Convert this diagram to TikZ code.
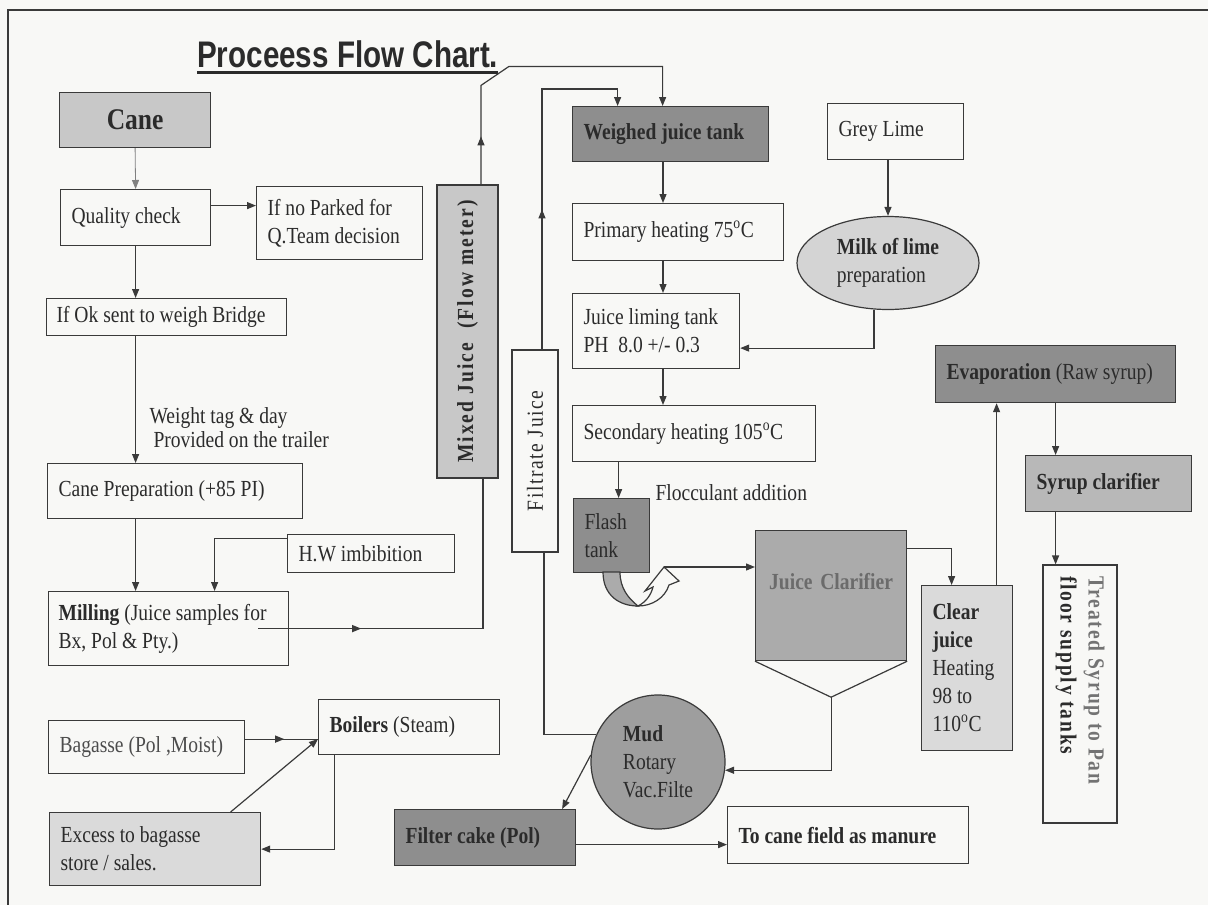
\documentclass[tikz,border=0pt]{standalone}
\usepackage{fontspec}
\setmainfont{Liberation Serif}[FakeStretch=0.85]
\newfontfamily\titlefont{Liberation Sans}[FakeStretch=0.8]
\usetikzlibrary{arrows.meta,shapes.geometric,decorations.markings,calc}

\definecolor{paper}{HTML}{F8F8F6}
\definecolor{ink}{HTML}{2B2B2B}
\definecolor{wirec}{HTML}{3A3A3A}
\definecolor{darkgrey}{HTML}{8E8E8E}
\definecolor{midgrey}{HTML}{ABABAB}
\definecolor{lightgrey}{HTML}{C8C8C8}
\definecolor{palegrey}{HTML}{DADADA}

\def\body{\fontsize{23}{28}\selectfont}
\def\deg{\textsuperscript{o}}

\tikzset{
  box/.style={draw=wirec, line width=1.2pt, fill=paper, anchor=north west,
    inner xsep=11pt, inner ysep=2pt, align=flush left, font=\body, text=ink},
  arr/.style={color=wirec, line width=1.2pt, -{Triangle[length=9pt,width=7pt]}},
  pipe/.style={color=wirec, line width=1.2pt},
  midarr/.style={postaction={decorate}, decoration={markings,
    mark=at position #1 with {\arrow{Triangle[length=9pt,width=7pt]}}}}
}

\begin{document}
\begin{tikzpicture}[x=1pt,y=-1pt]
   \useasboundingbox (0,0) rectangle (1208,905);
   \fill[paper] (0,0) rectangle (1208,905);
   \draw[wirec, line width=1.5pt] (8,905) -- (8,10) -- (1208,10);

   \node[anchor=base west, inner sep=0, text=ink, font=\titlefont\bfseries\fontsize{37}{40}\selectfont] (title) at (197,67) {Proceess Flow Chart.};
   \draw[ink, line width=3pt] ([yshift=-5pt]title.base west) -- ([yshift=-5pt]title.base east);

   % cane side
   \node[box, fill=lightgrey, text width=129pt, minimum height=55pt, align=center, font=\fontsize{30}{34}\selectfont\bfseries] (cane) at (59,92) {Cane};
   \node[box, text width=128pt, minimum height=56pt] (qual) at (60,189) {Quality check};
   \node[box, text width=144pt, minimum height=73pt] (ifno) at (256,186) {If no Parked for\\Q.Team decision};
   \node[box, text width=220pt, minimum height=37pt, inner xsep=10pt] (ifok) at (46,298) {If Ok sent to weigh Bridge};
   \node[anchor=west, align=left, text=ink, font=\fontsize{23}{24}\selectfont] (wlab) at (146,428) {Weight tag \& day\\\hspace*{4pt}Provided on the trailer};
   \node[box, text width=233pt, minimum height=55pt] (prep) at (47,463) {Cane Preparation (+85 PI)};
   \node[box, text width=145pt, minimum height=38pt] (hw) at (287,534) {H.W imbibition};
   \node[box, text width=220pt, minimum height=74pt, inner xsep=10pt] (mill) at (48,591) {\textbf{Milling} (Juice samples for\\Bx, Pol \& Pty.)};
   \node[box, text width=174pt, minimum height=53pt, text=black!70] (bag) at (48,720) {Bagasse (Pol ,Moist)};
   \node[box, text width=159pt, minimum height=55pt] (boil) at (318,699) {\textbf{Boilers} (Steam)};
   \node[box, fill=palegrey, text width=189pt, minimum height=73pt] (excess) at (49,812) {Excess to bagasse\\store / sales.};

   % juice lines
   \node[box, anchor=center, rotate=90, fill=lightgrey, minimum width=293pt, minimum height=61pt, align=center, font={\body\bfseries\addfontfeatures{LetterSpace=9}}] (mixed) at (467.5,331.5) {Mixed Juice\ \ (Flow meter)};
   \node[box, anchor=center, rotate=90, minimum width=202pt, minimum height=46pt, align=center, font={\body\addfontfeatures{LetterSpace=7}}] (filt) at (535,451) {Filtrate Juice};
   \node[box, fill=darkgrey, text width=174pt, minimum height=55pt, font=\body\bfseries] (wjt) at (572,106) {Weighed juice tank};
   \node[box, text width=189pt, minimum height=57pt] (prim) at (572,203) {Primary heating 75\deg C};
   \node[box, text width=145pt, minimum height=75pt] (lime) at (572,293) {Juice liming tank\\PH\ \ 8.0 +/- 0.3};
   \node[box, text width=221pt, minimum height=56pt] (sec) at (572,405) {Secondary heating 105\deg C};
   \node[box, fill=darkgrey, text width=54pt, minimum height=74pt] (flash) at (573,498) {Flash\\tank};
   \node[anchor=west, text=ink, font=\body] (floc) at (652,493) {Flocculant addition};
   \node[box, fill=midgrey, text width=129pt, minimum height=130pt, align=center, font=\body\bfseries, text=black!58] (clar) at (755,530) {\raisebox{6pt}[0pt][0pt]{Juice Clarifier}};
   \draw[pipe] (clar.south west) -- ($(clar.south)+(0,36)$) coordinate (hop) -- (clar.south east);
   \node[box, fill=palegrey, text width=69pt, minimum height=165pt] (clear) at (921,585) {\textbf{Clear}\\\textbf{juice}\\Heating\\98 to\\110\deg C};
   \node[box, fill=darkgrey, text width=218pt, minimum height=57pt] (evap) at (935,345) {\textbf{Evaporation} (Raw syrup)};
   \node[box, fill=midgrey!85, text width=144pt, minimum height=56pt, font=\body\bfseries] (syr) at (1025,455) {Syrup clarifier};
   \node[box, anchor=center, rotate=-90, text width=236pt, minimum height=74pt, font={\body\bfseries\addfontfeatures{LetterSpace=8}}] (treat) at (1080,694) {\textcolor{black!55}{Treated Syrup to Pan}\\floor supply tanks};

   % lime side
   \node[box, text width=114pt, minimum height=56pt] (grey) at (827,103) {Grey Lime};
   \node[box, ellipse, anchor=center, fill=black!17, inner sep=0, minimum width=182pt, minimum height=93pt, align=left] (milk) at (888,263) {\textbf{Milk of lime}\\preparation};

   % mud side
   \node[box, circle, anchor=center, fill=black!38, inner sep=0, minimum size=134pt, align=left] (mud) at (658,762) {\textbf{Mud}\\Rotary\\Vac.Filte};
   \node[box, fill=darkgrey, text width=159pt, minimum height=56pt, font=\body\bfseries] (cake) at (394,809) {Filter cake (Pol)};
   \node[box, text width=219pt, minimum height=57pt, font=\body\bfseries] (field) at (727,806) {To cane field as manure};

   % flash tank turn
   \draw[pipe, fill=midgrey] (603,572) .. controls (603,596) and (620,606) .. (638,606) .. controls (628,598) and (620,588) .. (620,572) -- cycle;
   \draw[pipe, fill=paper] (638,606) .. controls (646,602) and (651,595) .. (653,587) -- (645,591) -- (664,567) coordinate (utip) -- (679,581) -- (669,585) .. controls (665,598) and (652,606) .. cycle;

   \coordinate (cx) at (663,0);
   \draw[arr, color=gray, line width=0.8pt] (cane.south) -- (qual.north);
   \draw[arr] ([yshift=12pt]qual.east) -- ([yshift=12pt]qual.east -| ifno.west);
   \draw[arr] (qual.south) -- (qual.south |- ifok.north);
   \draw[arr] (ifok.south -| qual.south) -- (qual.south |- prep.north);
   \draw[arr] (prep.south -| qual.south) -- (qual.south |- mill.north);
   \draw[arr] ([yshift=15pt]hw.west) -| ([xshift=46pt]mill.north);
   \draw[pipe, midarr=103pt] ([xshift=-31pt]mill.east) -| ([xshift=15.5pt]mixed.west);
   \draw[arr, midarr=48pt] ([xshift=13.5pt]mixed.east) -- ++(0,-99) -- ++(28,-19) -| ([xshift=-8pt]wjt.north);
   \draw[arr, midarr=140pt] ([xshift=7pt]filt.east) |- ([xshift=-53pt,yshift=17pt]wjt.north) -- ([xshift=-53pt]wjt.north);
   \draw[pipe] (mud.156) -| ([xshift=9pt]filt.west);
   \draw[arr] (wjt.south -| cx) -- (prim.north -| cx);
   \draw[arr] (prim.south -| cx) -- (lime.north -| cx);
   \draw[arr] (lime.south -| cx) -- (sec.north -| cx);
   \draw[arr] ([xshift=7pt]flash.north |- sec.south) -- ([xshift=7pt]flash.north);
   \draw[arr] (milk.north |- grey.south) -- (milk.north);
   \draw[arr] ([xshift=-14pt]milk.south) |- ([yshift=-17pt]lime.east);
   \draw[arr] (utip) -- (utip -| clar.west);
   \draw[arr] ([yshift=47pt]clar.east) -| ([xshift=-15.5pt]clear.north);
   \draw[arr] ([xshift=29.5pt]clear.north) -- ([xshift=29.5pt]clear.north |- evap.south);
   \draw[arr] (evap.south) -- (evap.south |- syr.north);
   \draw[arr] (evap.south |- syr.south) -- (evap.south |- treat.west);
   \draw[arr] (hop) |- (mud.-7);
   \draw[arr] (mud.174) -- ([xshift=77pt]cake.north);
   \draw[arr] ([yshift=-7pt]cake.east) -- ([yshift=-7pt]cake.east -| field.west);
   \draw[pipe, midarr=39pt] ([yshift=8pt]bag.east) -- ([yshift=8pt]bag.east -| boil.west);
   \draw[arr] ([xshift=75.5pt]excess.north) -- ([yshift=-12pt]boil.west);
   \draw[arr] ([xshift=-74.5pt]boil.south) |- (excess.east);
\end{tikzpicture}
\end{document}
